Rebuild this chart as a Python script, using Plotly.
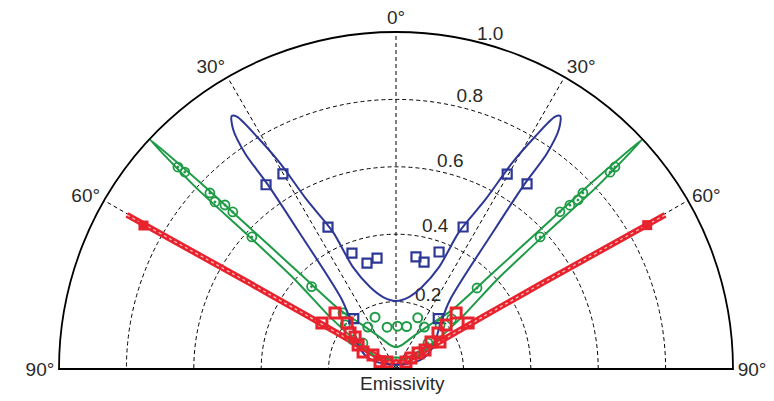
import math
import plotly.graph_objects as go

# ---------------- data ----------------
angle_ticks = [-90, -60, -30, 0, 30, 60, 90]
angle_labels = ["90°", "60°", "30°", "0°", "30°", "60°", "90°"]
radial_ticks = [0.2, 0.4, 0.6, 0.8, 1.0]
radial_labels = ["0.2", "0.4", "0.6", "0.8", "1.0"]
radial_label_angle = [24, 15.5, 14.7, 15.2, 15.7]   # where each radial label sits (deg)

blue_curve_theta = [0, 10.2, 17.6, 22.9, 24.7, 27.8, 29.4, 30.9, 32.2, 33.0, 34.2, 35.0, 34.8, 35.3, 38.0, 45.0, 57.7, 67.5, 70.0,
                    0.0,
                    -70.0, -67.5, -57.7, -45.0, -38.0, -35.3, -34.8, -35.0, -34.2, -33.0, -32.2, -30.9, -29.4, -27.8, -24.7, -22.9, -17.6, -10.2, 0]
blue_curve_r = [0.202, 0.217, 0.255, 0.328, 0.447, 0.567, 0.701, 0.803, 0.884, 0.895, 0.86, 0.78, 0.67, 0.50, 0.26, 0.185, 0.133, 0.093, 0.060,
                0.012,
                0.060, 0.093, 0.133, 0.185, 0.26, 0.50, 0.67, 0.78, 0.86, 0.895, 0.884, 0.803, 0.701, 0.567, 0.447, 0.328, 0.255, 0.217, 0.202]

blue_pts_theta = [-40, -35.2, -30.1, -25.6, -20.8, -15.3, -9.7, 10.1, 14.7, 20.2, 25.3, 29.7, 35.3, 40]
blue_pts_r = [0.195, 0.669, 0.669, 0.467, 0.368, 0.326, 0.334, 0.338, 0.328, 0.370, 0.466, 0.666, 0.673, 0.195]

green_curve_theta = [0, 15, 28, 38, 43.5, 45.2, 46.0, 46.4, 47.0, 47.8, 47.9, 48.5, 51.8, 56, 58, 40, 0,
                     -40, -58, -56, -51.8, -48.5, -47.9, -47.8, -47.0, -46.4, -46.0, -45.2, -43.5, -38, -28, -15, 0]
green_curve_r = [0.065, 0.075, 0.11, 0.17, 0.241, 0.40, 0.60, 0.80, 1.0, 0.80, 0.60, 0.40, 0.249, 0.118, 0.07, 0.04, 0.035,
                 0.04, 0.07, 0.118, 0.249, 0.40, 0.60, 0.80, 1.0, 0.80, 0.60, 0.40, 0.241, 0.17, 0.11, 0.075, 0.065]

green_dot_theta = [-47.2, -47.0, -46.6, -47.3, -46.2, -46.1, -47.5, -45.7, -43.4, -49, -56, -51.8,
                   47.3, 47.4, 46.7, 47.1, 46.7, 46.2, 47.5, 45.0, 48, 45, 51, 52]
green_dot_r = [0.882, 0.857, 0.760, 0.731, 0.703, 0.672, 0.580, 0.350, 0.229, 0.200, 0.154, 0.125,
               0.884, 0.863, 0.762, 0.737, 0.709, 0.674, 0.580, 0.340, 0.222, 0.185, 0.122, 0.082]

green_open_theta = [-34, -22, -12, 2, 14, 23, 34]
green_open_r = [0.150, 0.166, 0.127, 0.127, 0.130, 0.165, 0.150]

red_curve_theta = [-60.2, -59.6, -59.0, -58.0, -56.0, -45.0, 0, 45.0, 56.0, 58.0, 59.0, 59.6, 60.2]
red_curve_r = [0.92, 0.50, 0.30, 0.15, 0.07, 0.03, 0.02, 0.03, 0.07, 0.15, 0.30, 0.50, 0.92]

red_end_theta = [-60.4, 60.2]
red_end_r = [0.862, 0.859]

red_pts_theta = [-47.4, -58.1, -46.8, -52, -52, -57.7, -62.7, -58.7, -66, -52,
                 47, 48.7, 57.4, 49.4, 58.5, 52.4, 56.8, 54, 53.7, 55]
red_pts_r = [0.246, 0.259, 0.199, 0.173, 0.154, 0.133, 0.110, 0.080, 0.052, 0.034,
             0.244, 0.198, 0.254, 0.164, 0.153, 0.131, 0.103, 0.081, 0.055, 0.036]

baseline_theta = [-90, 0, 90]
baseline_r = [1.0, 0.0, 1.0]

BLUE = "rgb(45,55,150)"
GREEN = "rgb(30,155,70)"
RED = "rgb(232,35,45)"
FONT = "Liberation Sans, Arial, sans-serif"
TXT = "#2a2a2a"

W, H = 774, 401
DOM_X = [51 / W, 725 / W]
DOM_Y = [(H - 361) / H, (H - 24) / H]
# pole position and unit radius in figure pixels implied by the domain above
POLE_X = (DOM_X[0] + DOM_X[1]) / 2 * W
POLE_Y = (1 - DOM_Y[0]) * H
UNIT_PX = (DOM_X[1] - DOM_X[0]) * W / 2
LABEL_OFFSET = 0.035

fig = go.Figure()

fig.add_trace(go.Scatterpolar(r=baseline_r, theta=baseline_theta, mode="lines",
                              line=dict(color="black", width=1.6), hoverinfo="skip"))

# radial tick labels inside the range (placed just outside each grid circle)
inner = [i for i, v in enumerate(radial_ticks) if v + LABEL_OFFSET <= 1.0]
fig.add_trace(go.Scatterpolar(r=[radial_ticks[i] + LABEL_OFFSET for i in inner],
                              theta=[radial_label_angle[i] for i in inner],
                              mode="text", text=[radial_labels[i] for i in inner], cliponaxis=False,
                              textfont=dict(size=19, family=FONT, color=TXT), hoverinfo="skip"))

# red band
fig.add_trace(go.Scatterpolar(r=red_curve_r, theta=red_curve_theta, mode="lines",
                              line=dict(color=RED, width=6, shape="spline", smoothing=0.6)))
fig.add_trace(go.Scatterpolar(r=red_curve_r, theta=red_curve_theta, mode="lines",
                              line=dict(color="rgba(255,215,215,0.9)", width=1.2, dash="3px,3px",
                                        shape="spline", smoothing=0.6)))
fig.add_trace(go.Scatterpolar(r=red_end_r, theta=red_end_theta, mode="markers",
                              marker=dict(symbol="square", size=10, color=RED)))

# green lobe
fig.add_trace(go.Scatterpolar(r=green_curve_r, theta=green_curve_theta, mode="lines",
                              line=dict(color=GREEN, width=2, shape="spline", smoothing=0.6)))
fig.add_trace(go.Scatterpolar(r=green_dot_r, theta=green_dot_theta, mode="markers",
                              marker=dict(symbol="circle-open-dot", size=9, color=GREEN,
                                          line=dict(width=1.8, color=GREEN))))
fig.add_trace(go.Scatterpolar(r=green_open_r, theta=green_open_theta, mode="markers",
                              marker=dict(symbol="circle-open", size=9, color=GREEN,
                                          line=dict(width=2, color=GREEN))))

# blue lobe
fig.add_trace(go.Scatterpolar(r=blue_curve_r, theta=blue_curve_theta, mode="lines",
                              line=dict(color=BLUE, width=2, shape="spline", smoothing=0.8)))
fig.add_trace(go.Scatterpolar(r=blue_pts_r, theta=blue_pts_theta, mode="markers",
                              marker=dict(symbol="square-open", size=9, color=BLUE,
                                          line=dict(width=2.2, color=BLUE))))

# red data squares on top
fig.add_trace(go.Scatterpolar(r=red_pts_r, theta=red_pts_theta, mode="markers",
                              marker=dict(symbol="square-open", size=10, color=RED,
                                          line=dict(width=3, color=RED))))

# labels beyond the radial range (e.g. "1.0") as annotations, from the polar geometry
annotations = [dict(text="Emissivity", x=POLE_X / W + 0.008, y=(H - POLE_Y - 14) / H,
                    xref="paper", yref="paper", showarrow=False,
                    xanchor="center", yanchor="middle",
                    font=dict(size=19, family=FONT, color=TXT))]
for v, lab, ang in zip(radial_ticks, radial_labels, radial_label_angle):
    if v + LABEL_OFFSET > 1.0:
        rr = (v + LABEL_OFFSET) * UNIT_PX
        a = math.radians(ang)
        px = POLE_X + rr * math.sin(a)
        py = POLE_Y - rr * math.cos(a)
        annotations.append(dict(text=lab, x=px / W, y=(H - py) / H,
                                xref="paper", yref="paper", showarrow=False,
                                xanchor="center", yanchor="middle",
                                font=dict(size=19, family=FONT, color=TXT)))

fig.update_layout(
    width=W, height=H,
    margin=dict(l=0, r=0, t=0, b=0),
    paper_bgcolor="white",
    showlegend=False,
    font=dict(family=FONT, size=19, color=TXT),
    polar=dict(
        sector=[0, 180],
        domain=dict(x=DOM_X, y=DOM_Y),
        bgcolor="white",
        angularaxis=dict(
            rotation=90, direction="clockwise",
            tickmode="array", tickvals=angle_ticks, ticktext=angle_labels,
            showline=True, linecolor="black", linewidth=1.8,
            showgrid=True, gridcolor="black", gridwidth=1.3, griddash="4px,3px",
            ticks="", tickfont=dict(size=19, family=FONT, color=TXT),
        ),
        radialaxis=dict(
            range=[0, 1], tickmode="array", tickvals=radial_ticks,
            showticklabels=False, showline=False, ticks="",
            showgrid=True, gridcolor="black", gridwidth=1.3, griddash="4px,3px",
        ),
    ),
    annotations=annotations,
)

fig.write_html("out.html")
